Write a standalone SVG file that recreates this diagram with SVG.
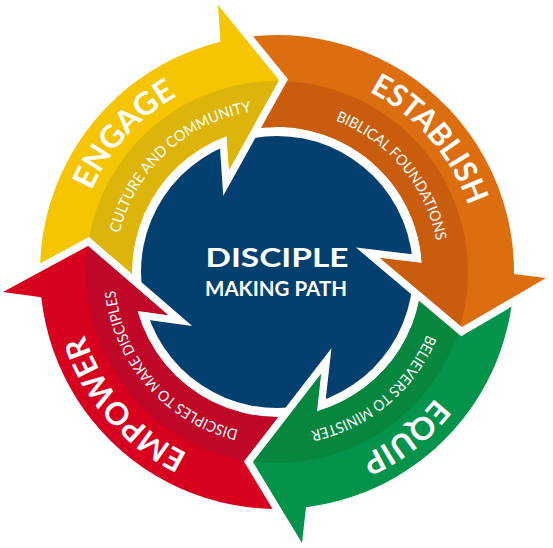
<svg xmlns="http://www.w3.org/2000/svg" width="553" height="548" viewBox="0 0 553 548">
<style>
.big{font-family:Lato,"Open Sans","Liberation Sans",sans-serif;font-weight:700;font-size:31px;fill:#fff}
.small{font-family:Lato,"Open Sans","Liberation Sans",sans-serif;font-weight:400;font-size:15px;fill:#fff}
.ctr{font-family:Lato,"Open Sans","Liberation Sans",sans-serif;font-weight:700;fill:#fff;text-anchor:middle}
.cut{fill:#000;stroke:#000;stroke-width:15;stroke-linejoin:miter}
</style>
<defs>
<path id="pY" d="M57.3,360.8 A237,237 0 0 1 220.5,41.8 L218,5 L279,80 L229,170 L226.7,136 A145,145 0 0 0 142.6,326.3 Z"/>
<path id="pO" d="M173.1,59 A237,237 0 0 1 514,274.1 L546,278 L462,327 L380,258 L421.8,263 A145,145 0 0 0 213.4,141.7 Z"/>
<path id="pG" d="M510.4,230.9 A237,237 0 0 1 306,507.2 L302,543 L253,462 L321,374 L316.8,411.4 A145,145 0 0 0 419.8,246.8 Z"/>
<path id="pR" d="M365.8,491.7 A237,237 0 0 1 41.3,297.3 L3,292 L88,246 L168,315 L137.3,310.7 A145,145 0 0 0 331.3,406.4 Z"/>
<clipPath id="inner"><circle cx="277" cy="272" r="191"/></clipPath>
<mask id="mY" maskUnits="userSpaceOnUse" x="0" y="0" width="553" height="548"><rect width="553" height="548" fill="#fff"/><use href="#pR" class="cut"/></mask>
<mask id="mO" maskUnits="userSpaceOnUse" x="0" y="0" width="553" height="548"><rect width="553" height="548" fill="#fff"/><use href="#pY" class="cut"/></mask>
<mask id="mG" maskUnits="userSpaceOnUse" x="0" y="0" width="553" height="548"><rect width="553" height="548" fill="#fff"/><use href="#pO" class="cut"/></mask>
<mask id="mR" maskUnits="userSpaceOnUse" x="0" y="0" width="553" height="548"><rect width="553" height="548" fill="#fff"/><use href="#pG" class="cut"/></mask>
<mask id="mN" maskUnits="userSpaceOnUse" x="0" y="0" width="553" height="548"><rect width="553" height="548" fill="#fff"/><use href="#pY" class="cut"/><use href="#pO" class="cut"/><use href="#pG" class="cut"/><use href="#pR" class="cut"/></mask>
<path id="tEngage" d="M128.9,410.1 A202.5,202.5 0 0 1 398.9,110.3"/>
<path id="tEstablish" d="M158,108.2 A202.5,202.5 0 0 1 422.7,412.7"/>
<path id="tEquip" d="M446.8,161.7 A202.5,202.5 0 0 1 128.9,410.1"/>
<path id="tEmpower" d="M396,435.8 A202.5,202.5 0 0 1 131.3,131.3"/>
<path id="tCulture" d="M148.3,371.1 A162.5,162.5 0 0 1 386.6,152"/>
<path id="tBiblical" d="M183.8,138.9 A162.5,162.5 0 0 1 391.9,386.9"/>
<path id="tBelievers" d="M410.6,179.5 A162.5,162.5 0 0 1 161.5,386.3"/>
<path id="tDisciples" d="M373.4,402.8 A162.5,162.5 0 0 1 159.3,159.9"/>
</defs>
<g id="center">
<circle cx="277" cy="272" r="136" fill="#04406F" mask="url(#mN)"/>
<text class="ctr" x="277" y="267" font-size="26" textLength="143" lengthAdjust="spacingAndGlyphs">DISCIPLE</text>
<text class="ctr" x="276" y="296" font-size="21" textLength="142" lengthAdjust="spacingAndGlyphs">MAKING PATH</text>
</g>
<g id="connectors"/>
<g id="engage">
<g mask="url(#mY)"><use href="#pY" fill="#F4C500"/><use href="#pY" fill="#DDB40A" clip-path="url(#inner)"/></g>
<text class="big"><textPath href="#tEngage" startOffset="50%" text-anchor="middle" textLength="130" lengthAdjust="spacingAndGlyphs">ENGAGE</textPath></text>
<text class="small"><textPath href="#tCulture" startOffset="50%" text-anchor="middle" textLength="190" lengthAdjust="spacingAndGlyphs">CULTURE AND COMMUNITY</textPath></text>
</g>
<g id="establish">
<g mask="url(#mO)"><use href="#pO" fill="#DD6E10"/><use href="#pO" fill="#CA5D0D" clip-path="url(#inner)"/></g>
<text class="big"><textPath href="#tEstablish" startOffset="50%" text-anchor="middle" textLength="155" lengthAdjust="spacingAndGlyphs">ESTABLISH</textPath></text>
<text class="small"><textPath href="#tBiblical" startOffset="50%" text-anchor="middle" textLength="164" lengthAdjust="spacingAndGlyphs">BIBLICAL FOUNDATIONS</textPath></text>
</g>
<g id="equip">
<g mask="url(#mG)"><use href="#pG" fill="#03934A"/><use href="#pG" fill="#07873E" clip-path="url(#inner)"/></g>
<text class="big"><textPath href="#tEquip" startOffset="50%" text-anchor="middle" textLength="96" lengthAdjust="spacingAndGlyphs">EQUIP</textPath></text>
<text class="small"><textPath href="#tBelievers" startOffset="50%" text-anchor="middle" textLength="157" lengthAdjust="spacingAndGlyphs">BELIEVERS TO MINISTER</textPath></text>
</g>
<g id="empower">
<g mask="url(#mR)"><use href="#pR" fill="#D7001F"/><use href="#pR" fill="#C00728" clip-path="url(#inner)"/></g>
<text class="big"><textPath href="#tEmpower" startOffset="50%" text-anchor="middle" textLength="161" lengthAdjust="spacingAndGlyphs">EMPOWER</textPath></text>
<text class="small"><textPath href="#tDisciples" startOffset="50%" text-anchor="middle" textLength="198" lengthAdjust="spacingAndGlyphs">DISCIPLES TO MAKE DISCIPLES</textPath></text>
</g>
</svg>
